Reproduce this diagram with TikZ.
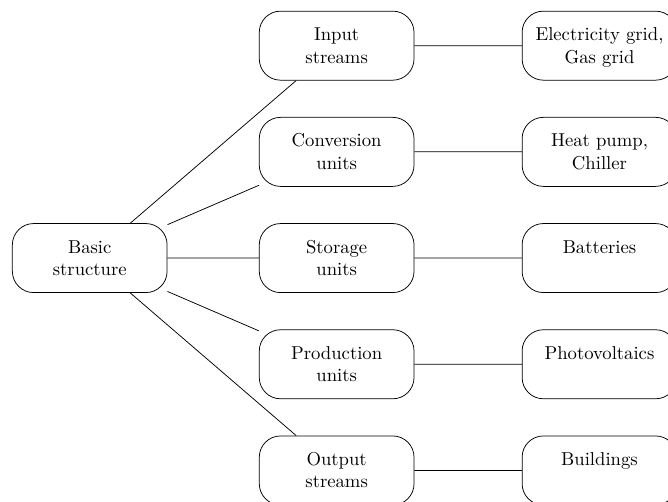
\documentclass[tikz,border=0pt]{standalone}
\usepackage{tikz}
\usetikzlibrary{trees}
\tikzstyle{block} = [shape=rectangle, rounded corners=0.4cm, draw=black, fill=white, text width=2.68cm, align=center, minimum height=1.3cm, text height=7pt, text depth=12.4pt]

\begin{document}
\begin{tikzpicture}[
    grow'=right,
    level 1/.style={level distance=4.65cm, sibling distance=2cm},
    level 2/.style={level distance=4.95cm}
]
  \useasboundingbox (-1.69,-4.58) rectangle (10.89,4.86);
  \node[block] (basic) {Basic \\ structure}
    child { node[block] (input) {Input \\ streams}
      child { node[block] (grid) {Electricity grid, \\ Gas grid}}
    }
    child { node[block] (conversion) {Conversion \\ units}
      child { node[block] (heatpump) {Heat pump, \\ Chiller}}
    }
    child { node[block] (storage) {Storage \\ units}
      child { node[block] (batteries) {Batteries}}
    }
    child { node[block] (production) {Production \\ units}
      child { node[block] (pv) {Photovoltaics}}
    }
    child { node[block] (output) {Output \\ streams}
      child { node[block] (buildings) {Buildings}}
    };
\end{tikzpicture}
\end{document}
